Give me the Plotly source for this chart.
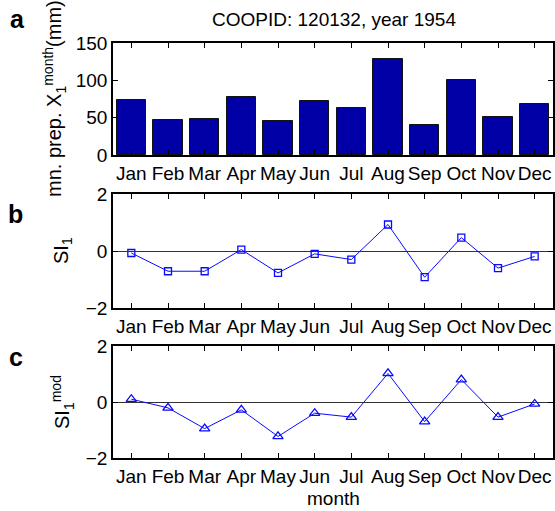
import plotly.graph_objects as go
from plotly.subplots import make_subplots

months = ["Jan", "Feb", "Mar", "Apr", "May", "Jun", "Jul", "Aug", "Sep", "Oct", "Nov", "Dec"]
month_idx = list(range(1, 13))
precip_mm = [74, 47, 48, 78, 46, 72, 63, 128, 40, 100, 51, 68]
si = [-0.07, -0.71, -0.71, 0.05, -0.77, -0.10, -0.30, 0.93, -0.92, 0.47, -0.60, -0.19]
si_mod = [0.10, -0.21, -0.95, -0.28, -1.23, -0.40, -0.54, 1.02, -0.70, 0.80, -0.54, -0.07]

FONT = "Liberation Sans, Arial, Helvetica, sans-serif"
W, H = 555, 511
LINE_BLUE = "#0a0aff"

fig = make_subplots(rows=3, cols=1)

fig.add_trace(go.Bar(x=month_idx, y=precip_mm, width=0.8,
                     marker=dict(color="#0000A6", line=dict(color="#111111", width=1)),
                     showlegend=False), row=1, col=1)
fig.add_trace(go.Scatter(x=month_idx, y=si, mode="lines+markers",
                         line=dict(color=LINE_BLUE, width=1),
                         marker=dict(symbol="square-open", size=7, color=LINE_BLUE,
                                     line=dict(width=1.3)),
                         showlegend=False), row=2, col=1)
fig.add_trace(go.Scatter(x=month_idx, y=si_mod, mode="lines+markers",
                         line=dict(color=LINE_BLUE, width=1),
                         marker=dict(symbol="triangle-up-open", size=9, color=LINE_BLUE,
                                     line=dict(width=1.3)),
                         showlegend=False), row=3, col=1)

# pixel extents of the three panels (top, bottom)
panels = [(43, 155), (194, 308), (346, 458)]
def dom(t, b):
    return [1 - b / H, 1 - t / H]

axis_common = dict(showline=True, linecolor="black", linewidth=1.5, mirror="ticks",
                   ticks="inside", ticklen=5, tickcolor="black", tickwidth=1,
                   showgrid=False, automargin=False,
                   tickfont=dict(family=FONT, size=19, color="black"))

for i, (t, b) in enumerate(panels, start=1):
    fig.update_xaxes(domain=[113 / W, 553 / W], range=[0.5, 12.5],
                     tickvals=month_idx, ticktext=months, zeroline=False,
                     row=i, col=1, **axis_common)
    fig.update_yaxes(domain=dom(t, b), row=i, col=1, **axis_common)

fig.update_yaxes(range=[0, 150], tickvals=[0, 50, 100, 150], zeroline=False, row=1, col=1)
for r in (2, 3):
    fig.update_yaxes(range=[-2, 2], tickvals=[-2, 0, 2], ticktext=["\u22122", "0", "2"],
                     zeroline=True, zerolinecolor="#333333", zerolinewidth=1.2,
                     row=r, col=1)

ann = []
def paper_y(py):
    return 1 - py / H
def paper_x(px):
    return px / W

# title
ann.append(dict(text="COOPID: 120132, year 1954", x=paper_x(334), y=paper_y(19),
                font=dict(family=FONT, size=19, color="black")))
# panel letters
for letter, px, py in (("a", 17, 19), ("b", 15, 214), ("c", 16, 357)):
    ann.append(dict(text="<b>%s</b>" % letter, x=paper_x(px), y=paper_y(py),
                    font=dict(family=FONT, size=25, color="black")))
# y-axis titles
ann.append(dict(text="mn. prep. X<sub>1</sub><sup>month</sup>(mm)", textangle=-90,
                x=paper_x(54), y=paper_y(99),
                font=dict(family=FONT, size=20, color="black")))
ann.append(dict(text="SI<sub>1</sub>", textangle=-90,
                x=paper_x(62), y=paper_y(251),
                font=dict(family=FONT, size=20, color="black")))
ann.append(dict(text="SI<sub>1</sub><sup>mod</sup>", textangle=-90,
                x=paper_x(62), y=paper_y(402),
                font=dict(family=FONT, size=20, color="black")))
# x-axis title
ann.append(dict(text="month", x=paper_x(333), y=paper_y(498),
                font=dict(family=FONT, size=19, color="black")))

for a in ann:
    a.update(xref="paper", yref="paper", showarrow=False, xanchor="center", yanchor="middle")

fig.update_layout(template="none", width=W, height=H,
                  margin=dict(l=0, r=0, t=0, b=0),
                  paper_bgcolor="white", plot_bgcolor="white",
                  bargap=0, annotations=ann, showlegend=False)

fig.write_html("out.html")
